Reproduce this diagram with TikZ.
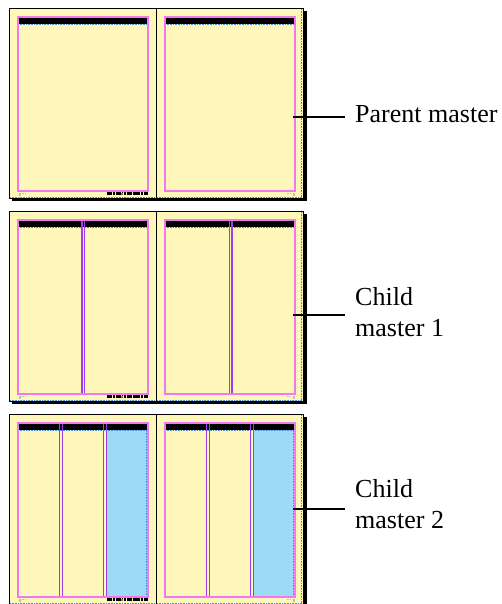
\documentclass[tikz,border=0pt]{standalone}
\usepackage{fontspec}
\setmainfont{Liberation Serif}
\definecolor{pagefill}{RGB}{255,247,185}
\definecolor{colblue}{RGB}{157,218,245}
\definecolor{marginpink}{RGB}{240,120,240}
\definecolor{guidepurple}{RGB}{160,60,240}
\definecolor{dotblue}{RGB}{80,140,220}
\definecolor{markgrey}{RGB}{190,190,190}
\tikzset{
  frameline/.style={line width=0.9pt, draw=black},
  marginbox/.style={draw=marginpink, line width=1.3pt},
  guideline/.style={draw=guidepurple, line width=1.1pt},
  dotline/.style={draw=dotblue, densely dotted, line width=0.6pt},
  footertext/.style={draw=black, line width=3pt, dash pattern=on 2.6pt off 0.7pt on 1.8pt off 0.5pt},
  lab/.style={font=\fontsize{26}{31}\selectfont, inner sep=0pt, align=left},
  conn/.style={draw=black, line width=1.2pt}
}
\newcommand\mspreadbase[1]{%
 \fill[black] (12,#1+3) rectangle (306.5,#1+193);
 \fill[pagefill] (9,#1) rectangle (303,#1+190);
}
\newcommand\mpagehead[2]{% #1 top, #2 x offset
 \fill[black] (18+#2,#1+9) rectangle (148+#2,#1+16);
 \draw[dotline] (18+#2,#1+16.4) -- (148+#2,#1+16.4);
}
\newcommand\mspreadtop[1]{%
 \draw[marginbox] (18,#1+9) rectangle (148,#1+183);
 \draw[marginbox] (165,#1+9) rectangle (295,#1+183);
 \draw[dotline] (301.5,#1+1) -- (301.5,#1+189);
 \draw[dotline] (10,#1+188.8) -- (302,#1+188.8);
 \draw[frameline] (9,#1) rectangle (303,#1+190);
 \draw[frameline] (156.5,#1) -- (156.5,#1+190);
 % footer text on left page
 \draw[footertext] (107,#1+185.8) -- (148,#1+185.8);
 \fill[orange!80!black] (121,#1+184.8) rectangle (123,#1+186.8);
 % grey corner marks
 \fill[markgrey] (18.5,#1+184.5) rectangle (20.5,#1+187.5);
 \fill[markgrey] (22,#1+185) rectangle (23.5,#1+186.2);
 \fill[markgrey] (24.5,#1+185) rectangle (26,#1+186.2);
 \fill[markgrey] (287,#1+185) rectangle (288.5,#1+186.2);
 \fill[markgrey] (289.5,#1+185) rectangle (291,#1+186.2);
 \fill[markgrey] (292.5,#1+184.5) rectangle (294.5,#1+187.5);
}
\begin{document}
\begin{tikzpicture}[x=1pt,y=-1pt]
\useasboundingbox (0,0) rectangle (501,604);
\fill[white] (0,0) rectangle (501,604);
% ---------- Spread 1: parent master ----------
\mspreadbase{8}
\mpagehead{8}{0}
\mpagehead{8}{147}
\mspreadtop{8}
% ---------- Spread 2: child master 1 ----------
\mspreadbase{211}
\mpagehead{211}{0}
\mpagehead{211}{147}
\foreach \g in {82,84.5,229.5,232} {\draw[guideline] (\g,211+9) -- (\g,211+183);}
\mspreadtop{211}
% ---------- Spread 3: child master 2 ----------
\mspreadbase{414}
\fill[colblue] (106.5,414+16) rectangle (148,414+183);
\fill[colblue] (253.5,414+16) rectangle (295,414+183);
\draw[dotline] (146.5,414+17) -- (146.5,414+183);
\draw[dotline] (293.5,414+17) -- (293.5,414+183);
\mpagehead{414}{0}
\mpagehead{414}{147}
\foreach \g in {59.5,62.5,103.5,106.5,206.5,209.5,250.5,253.5} {\draw[guideline] (\g,414+9) -- (\g,414+183);}
\mspreadtop{414}
% ---------- Labels ----------
\node[lab, anchor=base west] (t1) at (355,123) {Parent master};
\node[lab, anchor=north west] (t2) at (355,287.5) {Child\\master 1};
\node[lab, anchor=north west] (t3) at (355,479) {Child\\master 2};
\coordinate (a1) at (293,117);
\coordinate (b1) at (345,117);
\coordinate (a2) at (293,315);
\coordinate (b2) at (345,315);
\coordinate (a3) at (293,509);
\coordinate (b3) at (345,509);
\draw[conn] (a1) -- (b1);
\draw[conn] (a2) -- (b2);
\draw[conn] (a3) -- (b3);
\end{tikzpicture}
\end{document}
